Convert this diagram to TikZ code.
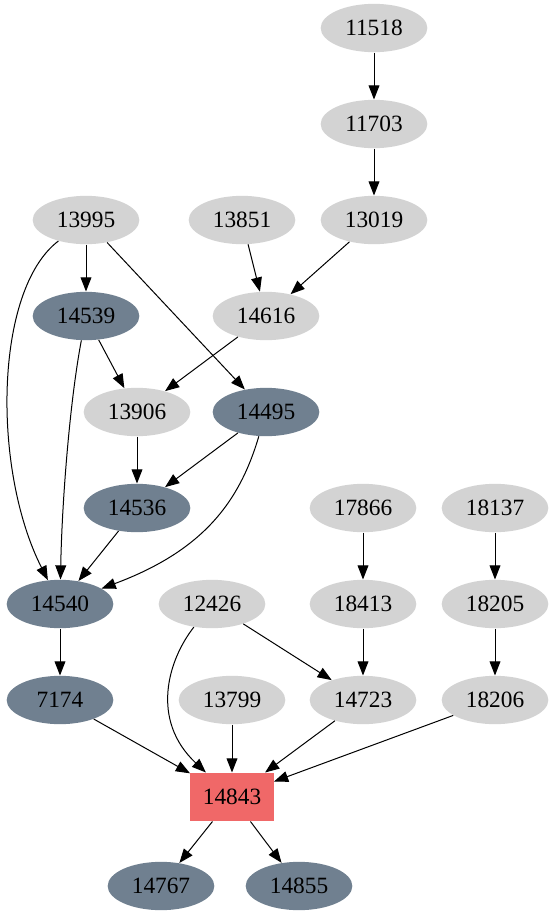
\documentclass[tikz,border=0pt]{standalone}
\usepackage{fontspec}
\setmainfont{Liberation Serif}
\usetikzlibrary{arrows.meta,shapes.geometric}
\definecolor{slate}{HTML}{708090}
\definecolor{lgray}{HTML}{D3D3D3}
\definecolor{hitred}{HTML}{F06868}
\tikzset{
    base/.style={inner sep=0pt, font=\fontsize{14}{16}\selectfont},
    gnode/.style={base, ellipse, fill=lgray, minimum width=64pt, minimum height=29pt},
    snode/.style={base, ellipse, fill=slate, minimum width=64pt, minimum height=29pt},
    hit/.style={base, rectangle, fill=hitred, minimum width=50pt, minimum height=29pt},
    edge/.style={-{Triangle[length=8.5pt,width=6.5pt]}, line width=0.6pt},
}
\begin{document}
\begin{tikzpicture}[x=0.6pt,y=-0.6pt]
    \useasboundingbox (0,0) rectangle (555,923);
    % top chain
    \node[gnode] (n11518) at (374,28) {11518};
    \node[gnode] (n11703) at (374,124) {11703};
    \node[gnode] (n13995) at (86,220) {13995};
    \node[gnode] (n13851) at (242,220) {13851};
    \node[gnode] (n13019) at (374,220) {13019};
    \node[snode] (n14539) at (86,316) {14539};
    \node[gnode] (n14616) at (266,316) {14616};
    \node[gnode] (n13906) at (137,412) {13906};
    \node[snode] (n14495) at (266,412) {14495};
    \node[snode] (n14536) at (137,508) {14536};
    \node[gnode] (n17866) at (363,508) {17866};
    \node[gnode] (n18137) at (495,508) {18137};
    \node[snode] (n14540) at (60,604) {14540};
    \node[gnode] (n12426) at (212,604) {12426};
    \node[gnode] (n18413) at (363,604) {18413};
    \node[gnode] (n18205) at (495,604) {18205};
    \node[snode] (n7174) at (60,700) {7174};
    \node[gnode] (n13799) at (232,700) {13799};
    \node[gnode] (n14723) at (363,700) {14723};
    \node[gnode] (n18206) at (495,700) {18206};
    % target
    \node[hit] (n14843) at (232,797) {14843};
    \node[snode] (n14767) at (161,886) {14767};
    \node[snode] (n14855) at (299,886) {14855};

    \draw[edge] (n11518) -- (n11703);
    \draw[edge] (n11703) -- (n13019);
    \draw[edge] (n13019) -- (n14616);
    \draw[edge] (n13851) -- (n14616);
    \draw[edge] (n13995) -- (n14539);
    \draw[edge] (n13995) .. controls (-6,290) and (-8,470) .. (n14540);
    \draw[edge] (n13995) -- (n14495);
    \draw[edge] (n14539) -- (n13906);
    \draw[edge] (n14539) .. controls (70,400) and (62,500) .. (n14540);
    \draw[edge] (n14616) -- (n13906);
    \draw[edge] (n13906) -- (n14536);
    \draw[edge] (n14495) -- (n14536);
    \draw[edge] (n14495) .. controls (240,500) and (205,550) .. (n14540);
    \draw[edge] (n14536) -- (n14540);
    \draw[edge] (n14540) -- (n7174);
    % into the target
    \draw[edge] (n7174) -- (n14843);
    \draw[edge] (n13799) -- (n14843);
    \draw[edge] (n12426) .. controls (168,660) and (150,720) .. (n14843);
    \draw[edge] (n12426) -- (n14723);
    \draw[edge] (n17866) -- (n18413);
    \draw[edge] (n18413) -- (n14723);
    \draw[edge] (n14723) -- (n14843);
    \draw[edge] (n18137) -- (n18205);
    \draw[edge] (n18205) -- (n18206);
    \draw[edge] (n18206) -- (n14843);
    \draw[edge] (n14843) -- (n14767);
    \draw[edge] (n14843) -- (n14855);
\end{tikzpicture}
\end{document}
